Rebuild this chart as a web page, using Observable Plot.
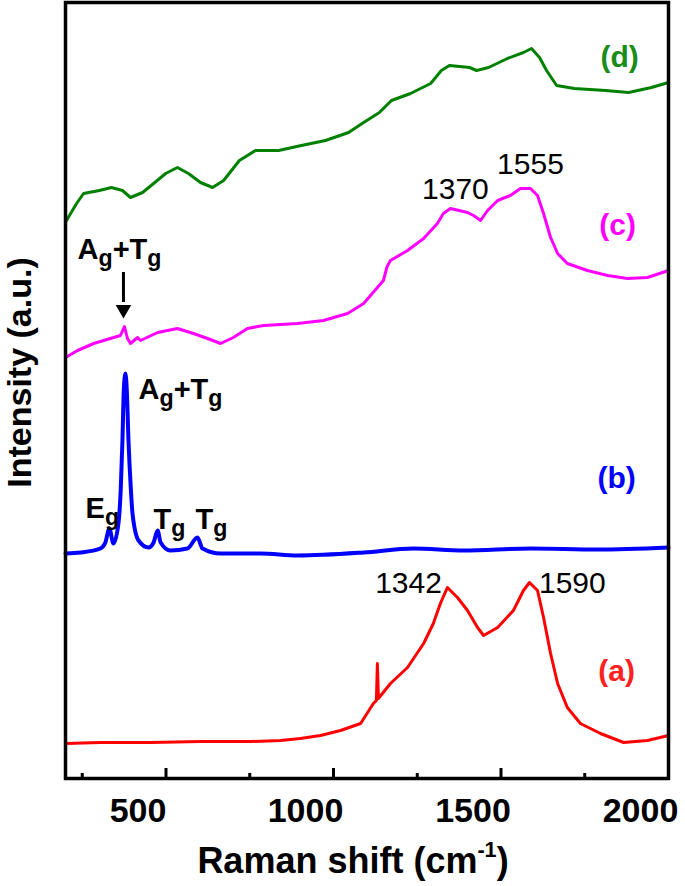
<!DOCTYPE html>
<html><head><meta charset="utf-8">
<script src="https://cdn.jsdelivr.net/npm/d3@7"></script>
<script src="https://cdn.jsdelivr.net/npm/@observablehq/plot@0.6"></script>
<style>body{margin:0;background:#fff}#chart svg{display:block}</style>
</head><body><div id="chart"></div>
<script>
// Raman shift (cm^-1) and intensity (a.u.)
const shiftA = [200,304,454,603,752,842,901,961,1021,1081,1119,1128,1131,1134,1170,1221,1269,1298,1319,1340,1370,1400,1430,1448,1490,1537,1567,1585,1609,1627,1648,1669,1698,1737,1797,1866,1937,2000];
const intA   = [35,36,36,37,37,38,40,43,48,55,75,78,115,80,95,111,135,155,175,191,181,168,151,143,151,168,188,196,188,161,125,95,71,55,45,36,38,43];

const shiftB = [200,245,304,319,331,343,358,365,370,374,379,383,388,395,400,418,448,463,475,484,513,564,594,609,663,782,893,1090,1239,1388,1588,1788,2000];
const intB   = [225,226,230,236,250,235,255,290,338,388,405,388,338,290,265,238,231,236,248,236,228,230,241,230,225,225,223,226,230,228,230,229,231];

const shiftC = [200,236,284,334,364,376,385,394,415,424,475,534,582,624,663,701,743,791,893,970,1042,1090,1131,1149,1160,1170,1221,1269,1310,1328,1349,1400,1418,1439,1460,1490,1528,1558,1588,1609,1627,1648,1669,1698,1758,1818,1878,1937,2000];
const intC   = [421,428,435,440,443,452,440,435,441,438,446,450,445,440,435,441,450,453,455,458,465,475,491,498,512,518,528,540,555,565,570,566,563,558,568,578,583,590,590,583,565,541,525,515,508,503,500,501,508];

const shiftD = [203,233,254,301,337,370,394,430,463,499,534,567,603,639,672,719,767,836,904,976,1045,1090,1137,1173,1230,1290,1322,1346,1406,1427,1463,1519,1567,1591,1615,1636,1666,1719,1812,1881,1949,2000];
const intD   = [558,575,585,588,591,588,581,586,595,605,611,605,596,591,598,618,628,628,633,638,646,656,666,678,685,695,708,713,711,708,711,720,726,730,721,708,693,690,688,686,691,696];

const majorTicks = [500,1000,1500,2000];
const minorTicks = [250,750,1250,1750];

const modeText = ["A_g+T_g","A_g+T_g","E_g","T_g","T_g"];
const modeX    = [236,418,260,463,588];
const modeY    = [520,380,261,250,250];

const peakText = ["1370","1555","1342","1590"];
const peakX    = [1364,1588,1224,1713];
const peakY    = [580,605,186,186];

const sampleText  = ["(d)","(c)","(b)","(a)"];
const sampleX     = [1854,1848,1845,1845];
const sampleY     = [712,544,291,98];
const sampleColor = ["#1a8c1a","#ff00ff","#0000ff","#ff2020"];

const arrowX = 373, arrowTop = 506, arrowShaftEnd = 476, arrowHead = 469;

const series = (xs, ys) => xs.map((x, i) => ({x, y: ys[i]}));
const A = series(shiftA, intA), B = series(shiftB, intB), C = series(shiftC, intC), D = series(shiftD, intD);
const modes = modeText.map((t, i) => ({t, x: modeX[i], y: modeY[i]}));
const peaks = peakText.map((t, i) => ({t, x: peakX[i], y: peakY[i]}));
const samples = sampleText.map((t, i) => ({t, x: sampleX[i], y: sampleY[i], c: sampleColor[i]}));

const font = "'Liberation Sans', Arial, sans-serif";

const chart = Plot.plot({
  width: 685, height: 886,
  marginLeft: 65, marginRight: 17, marginTop: 2, marginBottom: 108,
  style: {fontFamily: font, background: "white", overflow: "visible"},
  x: {domain: [200, 2000], axis: null},
  y: {domain: [0, 776], axis: null},
  marks: [
    Plot.line(A, {x: "x", y: "y", stroke: "#ff0000", strokeWidth: 3}),
    Plot.line(B, {x: "x", y: "y", stroke: "#0000ff", strokeWidth: 4, curve: "monotone-x"}),
    Plot.line(C, {x: "x", y: "y", stroke: "#ff00ff", strokeWidth: 3}),
    Plot.line(D, {x: "x", y: "y", stroke: "#008000", strokeWidth: 3}),
    Plot.ruleX(majorTicks, {x: d => d, y1: 0, y2: 10, stroke: "black", strokeWidth: 3}),
    Plot.ruleX(minorTicks, {x: d => d, y1: 0, y2: 5, stroke: "black", strokeWidth: 3}),
    Plot.frame({stroke: "black", strokeWidth: 3.5}),
    Plot.text(majorTicks, {x: d => d, text: d => String(d), frameAnchor: "bottom", lineAnchor: "bottom", dy: 43, dx: -28, fontSize: 34, fontWeight: "bold", fill: "black"}),
    Plot.text(["Raman shift (cm^{-1})"], {frameAnchor: "bottom", textAnchor: "middle", lineAnchor: "bottom", dy: 94, dx: -14, fontSize: 36, fontWeight: "bold", fill: "black"}),
    Plot.text(["Intensity (a.u.)"], {frameAnchor: "left", textAnchor: "middle", lineAnchor: "middle", rotate: -90, dx: -45, dy: -18, fontSize: 34, fontWeight: "bold", fill: "black"}),
    Plot.text(modes, {x: "x", y: "y", text: "t", textAnchor: "start", lineAnchor: "bottom", fontSize: 29, fontWeight: "bold", fill: "black"}),
    Plot.text(peaks, {x: "x", y: "y", text: "t", lineAnchor: "bottom", fontSize: 30, fill: "black"}),
    Plot.text(samples, {x: "x", y: "y", text: "t", fill: "c", lineAnchor: "bottom", fontSize: 30, fontWeight: "bold"}),
    Plot.ruleX([arrowX], {x: d => d, y1: arrowTop, y2: arrowShaftEnd, stroke: "black", strokeWidth: 3}),
    Plot.dot([arrowX], {x: d => d, y: arrowHead, symbol: "triangle", rotate: 180, r: 5.8, fill: "black", stroke: "none"})
  ]
});
document.getElementById("chart").appendChild(chart);

// turn _x / ^{..} markup into sub/superscript tspans
function richText(root) {
  root.querySelectorAll("text").forEach(t => {
    const s = t.textContent;
    if (!/[_^]/.test(s)) return;
    const fs = parseFloat(getComputedStyle(t).fontSize) || 30;
    const parts = [];
    const re = /([_^])(\{([^}]*)\}|(.))/g;
    let last = 0, m;
    while ((m = re.exec(s))) {
      if (m.index > last) parts.push({t: s.slice(last, m.index), k: "n"});
      parts.push({t: m[3] !== undefined ? m[3] : m[4], k: m[1] === "_" ? "sub" : "sup"});
      last = re.lastIndex;
    }
    if (last < s.length) parts.push({t: s.slice(last), k: "n"});
    while (t.firstChild) t.removeChild(t.firstChild);
    let shift = 0;
    for (const p of parts) {
      const ts = document.createElementNS("http://www.w3.org/2000/svg", "tspan");
      const target = p.k === "sub" ? 0.25 * fs : p.k === "sup" ? -0.42 * fs : 0;
      ts.setAttribute("dy", target - shift);
      shift = target;
      if (p.k === "sub") ts.setAttribute("font-size", 0.8 * fs);
      if (p.k === "sup") ts.setAttribute("font-size", 0.6 * fs);
      ts.textContent = p.t;
      t.appendChild(ts);
    }
  });
}
richText(chart);
</script>
</body></html>
